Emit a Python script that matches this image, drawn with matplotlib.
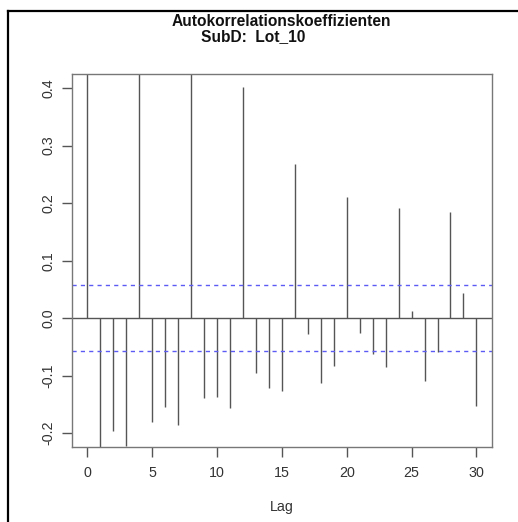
import numpy as np
import matplotlib.pyplot as plt
from matplotlib.lines import Line2D

plt.rcParams.update({
    'font.family': ['Liberation Sans', 'DejaVu Sans'],
    'font.size': 9,
    'axes.linewidth': 1.0,
})

# ACF values (lags 0, 4, 8 run past the top of the plot)
lags = list(range(31))
acf = [1.0, -0.235, -0.197, -0.223, 0.55, -0.181, -0.154, -0.186, 0.48,
       -0.138, -0.137, -0.156, 0.402, -0.096, -0.121, -0.127, 0.268,
       -0.028, -0.112, -0.084, 0.210, -0.026, -0.062, -0.085, 0.192,
       0.013, -0.110, -0.058, 0.185, 0.044, -0.152]
conf_limit = 0.057
title_main = 'Autokorrelationskoeffizienten'
title_sub = 'SubD:  Lot_10'

fig = plt.figure(figsize=(5.18, 5.22), dpi=100)
ax = fig.add_axes([0.1384, 0.1437, 0.8114, 0.714])

line_col = '#555555'
ax.vlines(lags, 0, acf, color=line_col, linewidth=1.0)
ax.axhline(0, color=line_col, linewidth=1.0)
ax.axhline(conf_limit, color='#5c5cf5', linestyle=(0, (3, 3)), linewidth=1.0)
ax.axhline(-conf_limit, color='#5c5cf5', linestyle=(0, (3, 3)), linewidth=1.0)

ax.set_xlim(-1.2, 31.2)
ax.set_ylim(-0.224, 0.424)
ax.set_xticks(range(0, 31, 5))
ax.set_yticks([-0.2, -0.1, 0.0, 0.1, 0.2, 0.3, 0.4])
ax.set_yticklabels(['-0.2', '-0.1', '0.0', '0.1', '0.2', '0.3', '0.4'],
                   rotation=90, va='center')
ax.tick_params(length=7, width=1.0, color=line_col, labelcolor='#333333',
               labelsize=10.3, pad=7)
ax.tick_params(axis='y', pad=5)
for s in ax.spines.values():
    s.set_color('#777777')

ax.set_xlabel('Lag', color='#333333', fontsize=10.3, labelpad=14)

fig.text(281 / 518, 1 - 22 / 522, title_main, ha='center', va='center',
         fontsize=11.2, fontweight='bold', color='#111111')
fig.text(253.5 / 518, 1 - 37 / 522, title_sub, ha='center', va='center',
         fontsize=11.2, fontweight='bold', color='#111111')

# outer frame (only top and left edges fall inside the image)
fig.add_artist(Line2D([8 / 518, 8 / 518], [0, 1 - 11 / 522], color='black',
                      linewidth=1.6, transform=fig.transFigure))
fig.add_artist(Line2D([8 / 518, 1], [1 - 11 / 522, 1 - 11 / 522], color='black',
                      linewidth=1.6, transform=fig.transFigure))

fig.savefig('out.png', dpi=100)
